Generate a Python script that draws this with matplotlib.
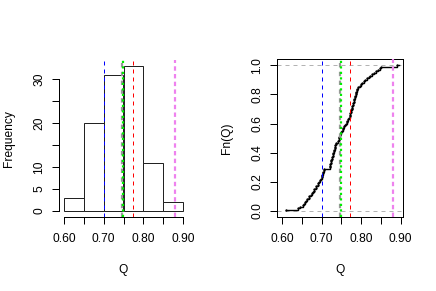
import numpy as np
import matplotlib
matplotlib.use('Agg')
import matplotlib.pyplot as plt

plt.rcParams['font.family'] = ['Liberation Sans', 'DejaVu Sans']
plt.rcParams['font.size'] = 12

# Q-Werte (100 Stueck)
Q = np.array([
	0.611, 0.641, 0.646,
	0.652, 0.655, 0.657, 0.660, 0.663, 0.667, 0.669, 0.672, 0.675, 0.678,
	0.680, 0.682, 0.685, 0.687, 0.690, 0.692, 0.694, 0.696, 0.698, 0.700,
	0.701, 0.702, 0.703, 0.704, 0.705, 0.706,
	0.720, 0.721, 0.722, 0.723, 0.724, 0.725, 0.726, 0.727, 0.728, 0.729,
	0.730, 0.731, 0.732, 0.733, 0.734, 0.735, 0.736, 0.737,
	0.742, 0.743, 0.744, 0.745, 0.746, 0.747, 0.749,
	0.751, 0.753, 0.755, 0.757, 0.759, 0.761, 0.763, 0.765, 0.767, 0.769,
	0.771, 0.772, 0.773, 0.774, 0.775, 0.776, 0.777, 0.778, 0.779, 0.780,
	0.781, 0.782, 0.783, 0.784, 0.785, 0.786, 0.787, 0.788, 0.789, 0.790,
	0.793, 0.796, 0.799,
	0.803, 0.807, 0.811, 0.815, 0.819, 0.823, 0.827, 0.832, 0.837, 0.842, 0.848,
	0.851, 0.890])
breaks = np.array([0.60, 0.65, 0.70, 0.75, 0.80, 0.85, 0.90])

# senkrechte Linien: Position, Farbe, Stil, Breite
vlines = [
	(0.702, 'blue', (0, (4, 4)), 1.0),
	(0.746, '#999999', (0, (2, 2)), 2.2),
	(0.749, '#00ee00', (0, (1, 1.5)), 2.2),
	(0.773, 'red', (0, (4, 4)), 1.0),
	(0.880, 'violet', (0, (2, 1.5)), 2.2),
]

fig = plt.figure(figsize=(436/72, 291/72), dpi=72)
ax1 = fig.add_axes([59.3/436, 1-216.8/291, 128.4/436, 156.8/291])
ax2 = fig.add_axes([277.3/436, 1-216.8/291, 126/436, 157.3/291])

# Histogramm, Intervalle rechts geschlossen wie in R
xs = np.sort(Q)
idx = np.searchsorted(xs, breaks + 1e-9, side='left')
counts = np.diff(idx)
ax1.bar(breaks[:-1], counts, width=0.05, align='edge', facecolor='white',
	edgecolor='#222222', linewidth=1.0, zorder=2)
for x, c, ls, lw in vlines:
	ax1.axvline(x, color=c, linestyle=ls, linewidth=lw, zorder=3)
ax1.set_xlim(0.588, 0.912)
ax1.set_ylim(-1.32, 34.32)
ax1.set_xticks([0.60, 0.70, 0.80, 0.90])
ax1.set_xticks(breaks, minor=True)
ax1.set_yticks([0, 5, 10, 20, 30])
ax1.set_yticks([0, 5, 10, 15, 20, 25, 30], minor=True)
ax1.set_xticklabels(['0.60', '0.70', '0.80', '0.90'])
ax1.spines['top'].set_visible(False)
ax1.spines['right'].set_visible(False)
ax1.spines['left'].set_bounds(0, 30)
ax1.spines['bottom'].set_bounds(0.6, 0.9)
ax1.set_xlabel('Q', labelpad=19)
ax1.set_ylabel('Frequency', labelpad=18)

# ECDF
n = len(Q)
Fn = np.arange(1, n+1) / n
ax2.axhline(0, color='#b3b3b3', linestyle=(0, (4, 4)), linewidth=1.0, zorder=1)
ax2.axhline(1, color='#b3b3b3', linestyle=(0, (4, 4)), linewidth=1.0, zorder=1)
for x, c, ls, lw in vlines:
	ax2.axvline(x, color=c, linestyle=ls, linewidth=lw, zorder=3)
ax2.step(np.append(xs, 0.895), np.append(Fn, 1.0), where='post', color='black',
	linewidth=1.4, zorder=2)
ax2.plot(xs, Fn, 'k.', markersize=2.5, zorder=2)
ax2.set_xlim(0.588, 0.9066)
ax2.set_ylim(-0.04, 1.04)
ax2.set_xticks([0.60, 0.70, 0.80, 0.90])
ax2.set_xticks(breaks, minor=True)
ax2.set_xticklabels(['0.60', '0.70', '0.80', '0.90'])
ax2.set_yticks([0, 0.2, 0.4, 0.6, 0.8, 1.0])
ax2.set_yticklabels(['0.0', '0.2', '0.4', '0.6', '0.8', '1.0'])
ax2.set_xlabel('Q', labelpad=19)
ax2.set_ylabel('Fn(Q)', labelpad=18)

for ax in (ax1, ax2):
	ax.tick_params(which='both', direction='out', length=7, width=1, color='black')
	ax.tick_params(axis='x', which='major', pad=9)
	ax.tick_params(axis='y', which='major', pad=7, labelrotation=90)
	ax.tick_params(which='minor', labelbottom=False, labelleft=False)
	for lab in ax.get_yticklabels():
		lab.set_va('center')
	for s in ax.spines.values():
		s.set_linewidth(1)

fig.savefig('out.png', dpi=72)
